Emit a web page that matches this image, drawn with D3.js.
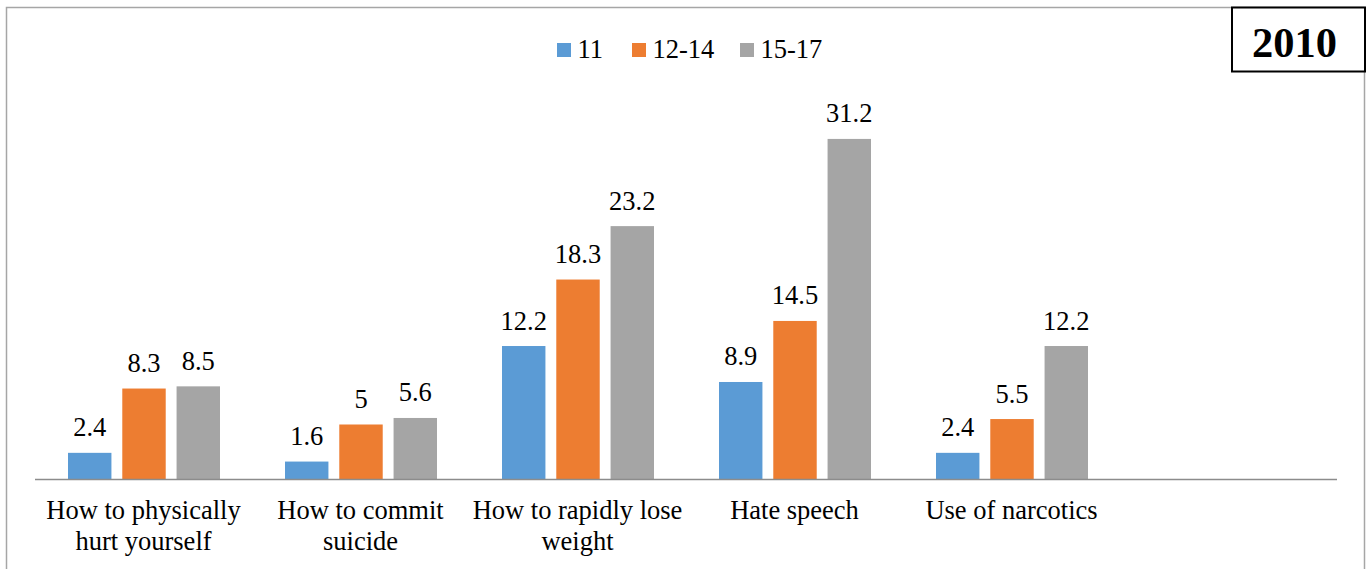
<!DOCTYPE html>
<html>
<head>
<meta charset="utf-8">
<script src="https://cdn.jsdelivr.net/npm/d3@7"></script>
<style>
  body { margin: 0; background: #fff; }
</style>
</head>
<body>
<svg id="bar-chart" width="1369" height="569"></svg>
<script>
// categories (last slot left empty like the original chart)
var categories = ["How to physically hurt yourself", "How to commit suicide", "How to rapidly lose weight", "Hate speech", "Use of narcotics", ""];
var categoryLines = [["How to physically", "hurt yourself"], ["How to commit", "suicide"], ["How to rapidly lose", "weight"], ["Hate speech"], ["Use of narcotics"], []];
var seriesNames = ["11", "12-14", "15-17"];
var values11 = [2.4, 1.6, 12.2, 8.9, 2.4];
var values12_14 = [8.3, 5, 18.3, 14.5, 5.5];
var values15_17 = [8.5, 5.6, 23.2, 31.2, 12.2];
var yearLabel = "2010";

var colors = ["#5B9BD5", "#ED7D31", "#A5A5A5"];
var allSeries = [values11, values12_14, values15_17];

var fontFamily = "'Liberation Serif', 'Times New Roman', Times, serif";
var svg = d3.select("#bar-chart")
    .attr("font-family", fontFamily);
var fontSize = 26.5;

// outer frame
svg.append("rect")
    .attr("x", 6.5).attr("y", 7.5)
    .attr("width", 1358).attr("height", 600)
    .attr("fill", "none")
    .attr("stroke", "#a6a6a6")
    .attr("stroke-width", 1.5);

var x0 = d3.scaleBand()
    .domain(d3.range(categories.length))
    .range([35, 1337])
    .padding(0);

var x1 = d3.scaleBand()
    .domain(seriesNames)
    .range([33, 185])
    .paddingInner(0.2);

var y = d3.scaleLinear()
    .domain([0, 35])
    .range([479, 97.5]);

var color = d3.scaleOrdinal().domain(seriesNames).range(colors);

var rows = values11.map(function (v, i) {
    return { idx: i, vals: seriesNames.map(function (s, j) { return { key: s, value: allSeries[j][i] }; }) };
});

var groups = svg.selectAll("g.group")
    .data(rows)
    .enter().append("g")
    .attr("class", "group")
    .attr("transform", d => "translate(" + x0(d.idx) + ",0)");

groups.selectAll("rect")
    .data(d => d.vals)
    .enter().append("rect")
    .attr("x", d => x1(d.key))
    .attr("y", d => y(d.value))
    .attr("width", x1.bandwidth())
    .attr("height", d => y(0) - y(d.value))
    .attr("fill", d => color(d.key));

// value labels
groups.selectAll("text")
    .data(d => d.vals)
    .enter().append("text")
    .attr("x", d => x1(d.key) + x1.bandwidth() / 2)
    .attr("y", d => y(d.value) - 16.5)
    .attr("text-anchor", "middle")
    .style("font-size", fontSize + "px")
    .attr("fill", "#000")
    .text(d => d.value);

// x axis line
svg.append("line")
    .attr("x1", x0.range()[0]).attr("x2", x0.range()[1])
    .attr("y1", y(0) + 0.5).attr("y2", y(0) + 0.5)
    .attr("stroke", "#8c8c8c")
    .attr("stroke-width", 1.5);

// category labels
var catLabels = svg.selectAll("text.cat")
    .data(categoryLines)
    .enter().append("text")
    .attr("class", "cat")
    .attr("text-anchor", "middle")
    .style("font-size", fontSize + "px")
    .attr("transform", (d, i) => "translate(" + (x0(i) + x0.bandwidth() / 2) + ",519)");

catLabels.selectAll("tspan")
    .data(d => d)
    .enter().append("tspan")
    .attr("x", 0)
    .attr("y", (d, i) => i * 31)
    .text(d => d);

// legend
var legendX = [557, 632, 740];
var legend = svg.selectAll(".legend")
    .data(seriesNames)
    .enter().append("g")
    .attr("class", "legend")
    .attr("transform", (d, i) => "translate(" + legendX[i] + ",43)");

legend.append("rect")
    .attr("width", 14).attr("height", 14)
    .attr("fill", d => color(d));

legend.append("text")
    .attr("x", 20.5)
    .attr("y", 15)
    .style("font-size", fontSize + "px")
    .text(d => d);

// year box
svg.append("rect")
    .attr("x", 1232).attr("y", 7.5)
    .attr("width", 133).attr("height", 64)
    .attr("fill", "#fff")
    .attr("stroke", "#000")
    .attr("stroke-width", 2);

svg.append("text")
    .attr("x", 1294.5)
    .attr("y", 57)
    .attr("text-anchor", "middle")
    .style("font-size", "42.5px")
    .style("font-weight", "bold")
    .text(yearLabel);
</script>
</body>
</html>
